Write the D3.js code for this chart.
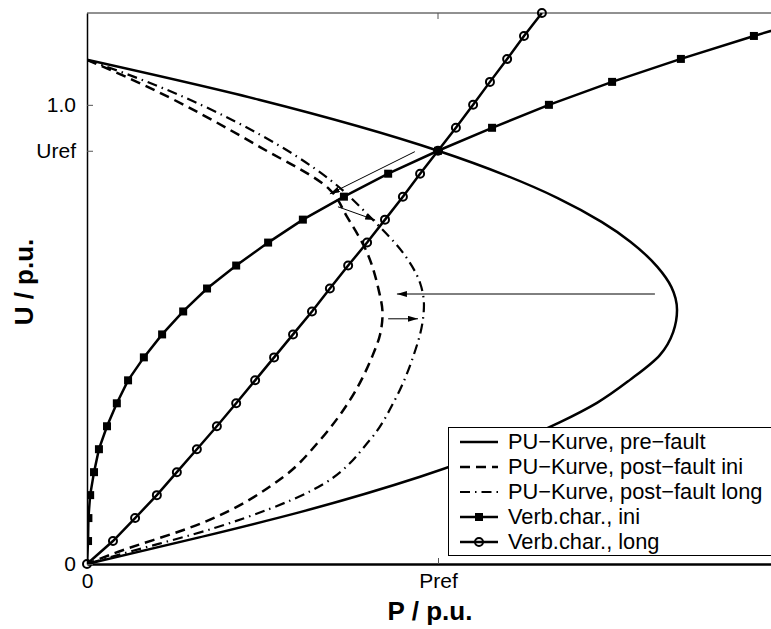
<!DOCTYPE html>
<html><head><meta charset="utf-8">
<script src="https://cdn.jsdelivr.net/npm/d3@7"></script>
<style>body{margin:0;background:#fff}svg{display:block}text{font-family:"Liberation Sans",Arial,sans-serif}</style>
</head><body><div id="chart"></div>
<script>
// ---- data ----
const xTickValues = [0, 1];
const xTickLabels = ["0", "Pref"];
const yTickValues = [0, 0.9, 1.0];
const yTickLabels = ["0", "Uref", "1.0"];

// PU curves [P, U]
const puPreFault = [[0,1.098],[0.49,1.011],[1.0,0.900],[1.191,0.847],[1.341,0.797],[1.466,0.745],[1.548,0.702],[1.625,0.647],[1.665,0.603],[1.681,0.553],[1.670,0.505],[1.632,0.455],[1.547,0.401],[1.453,0.351],[1.348,0.309],[0.949,0.190],[0.607,0.113],[0.32,0.058],[0,0]];
const puPostIni = [[0,1.098],[0.131,1.054],[0.493,0.908],[0.692,0.815],[0.741,0.756],[0.798,0.678],[0.830,0.600],[0.842,0.545],[0.835,0.500],[0.812,0.451],[0.749,0.357],[0.664,0.270],[0.560,0.190],[0.330,0.090],[0.066,0.020],[0,0]];
const puPostLong = [[0,1.098],[0.131,1.062],[0.493,0.935],[0.692,0.837],[0.815,0.749],[0.900,0.678],[0.949,0.612],[0.960,0.564],[0.957,0.532],[0.929,0.451],[0.877,0.357],[0.806,0.270],[0.640,0.160],[0.370,0.080],[0.100,0.022],[0,0]];

// Verbraucher-Charakteristik
const verbIniU = [0,0.05,0.10,0.15,0.20,0.25,0.30,0.35,0.40,0.45,0.50,0.55,0.60,0.65,0.70,0.75,0.80,0.85,0.90,0.95,1.00,1.05,1.10,1.15,1.20];
const verbIniP = [0,0.003,0.004,0.009,0.020,0.034,0.057,0.085,0.117,0.162,0.214,0.274,0.342,0.425,0.516,0.615,0.732,0.858,1.000,1.154,1.316,1.496,1.692,1.900,2.120];
const verbLongU = [0,0.05,0.10,0.15,0.20,0.25,0.30,0.35,0.40,0.45,0.50,0.55,0.60,0.65,0.70,0.75,0.80,0.85,0.90,0.95,1.00,1.05,1.10,1.15,1.20];
const verbLongP = [0,0.074,0.137,0.199,0.256,0.313,0.370,0.425,0.479,0.533,0.587,0.641,0.692,0.744,0.798,0.849,0.900,0.949,1.000,1.051,1.100,1.148,1.197,1.245,1.296];

// annotation arrows [P0,U0,P1,U1]
const arrows = [[0.934,0.898,0.692,0.806],[0.715,0.778,0.821,0.749],[1.618,0.588,0.883,0.588],[0.858,0.534,0.943,0.534]];

const legendLabels = ["PU\u2212Kurve, pre\u2212fault","PU\u2212Kurve, post\u2212fault ini","PU\u2212Kurve, post\u2212fault long","Verb.char., ini","Verb.char., long"];

// ---- drawing ----
const W = 771, H = 629;
const m = {left: 87, top: 13, right: -18, bottom: 65};
const x = d3.scaleLinear().domain([0, 2]).range([m.left, W - m.right]);
const y = d3.scaleLinear().domain([0, 1.2]).range([H - m.bottom, m.top]);

const svg = d3.select("#chart").append("svg").attr("width", W).attr("height", H);
const defs = svg.append("defs");
defs.append("clipPath").attr("id","clip").append("rect")
  .attr("x", x(0)).attr("y", y(1.2)).attr("width", x(2)-x(0)).attr("height", y(0)-y(1.2));
defs.append("marker").attr("id","arr").attr("viewBox","0 0 10 6").attr("refX",10).attr("refY",3)
  .attr("markerWidth",10).attr("markerHeight",6).attr("markerUnits","userSpaceOnUse").attr("orient","auto")
  .append("path").attr("d","M0,0L10,3L0,6Z").attr("fill","#000");

// frame
svg.append("line").attr("x1",x(0)).attr("x2",x(2)).attr("y1",y(1.2)).attr("y2",y(1.2)).attr("stroke","#222").attr("stroke-width",1);

const plot = svg.append("g").attr("clip-path","url(#clip)");
const line = d3.line().x(d=>x(d[0])).y(d=>y(d[1]));
const smooth = d3.line().x(d=>x(d[0])).y(d=>y(d[1])).curve(d3.curveMonotoneY);

plot.append("path").datum(puPreFault).attr("d",smooth).attr("fill","none").attr("stroke","#000").attr("stroke-width",2.5);
plot.append("path").datum(puPostIni).attr("d",smooth).attr("fill","none").attr("stroke","#000").attr("stroke-width",2.5).attr("stroke-dasharray","10,6");
plot.append("path").datum(puPostLong).attr("d",smooth).attr("fill","none").attr("stroke","#000").attr("stroke-width",2.2).attr("stroke-dasharray","10,5,1.5,5");

const verbIni = verbIniU.map((u,i)=>[verbIniP[i],u]);
const verbLong = verbLongU.map((u,i)=>[verbLongP[i],u]);
plot.append("path").datum(verbIni).attr("d",line).attr("fill","none").attr("stroke","#000").attr("stroke-width",2.5);
plot.append("path").datum(verbLong).attr("d",line).attr("fill","none").attr("stroke","#000").attr("stroke-width",2.5);
plot.selectAll(".sq").data(verbIni).join("rect").attr("class","sq")
  .attr("x",d=>x(d[0])-4).attr("y",d=>y(d[1])-4).attr("width",8).attr("height",8).attr("fill","#000");
svg.selectAll(".ci").data(verbLong.filter(d=>d[1]<=1.2)).join("circle").attr("class","ci")
  .attr("cx",d=>x(d[0])).attr("cy",d=>y(d[1])).attr("r",4).attr("fill","none").attr("stroke","#000").attr("stroke-width",2);

// arrows
svg.selectAll(".ar").data(arrows).join("line").attr("class","ar")
  .attr("x1",d=>x(d[0])).attr("y1",d=>y(d[1])).attr("x2",d=>x(d[2])).attr("y2",d=>y(d[3]))
  .attr("stroke","#000").attr("stroke-width",1).attr("marker-end","url(#arr)");

// axes
const gx = svg.append("g").attr("transform",`translate(0,${y(0)})`)
  .call(d3.axisBottom(x).tickValues(xTickValues).tickFormat((d,i)=>xTickLabels[i]).tickSizeInner(-6).tickSizeOuter(0).tickPadding(9));
gx.select(".domain").attr("stroke","#000").attr("stroke-width",2.5);
gx.selectAll(".tick line").attr("stroke","#555");
gx.selectAll("text").attr("font-size",21).attr("fill","#000");
const gy = svg.append("g").attr("transform",`translate(${x(0)},0)`)
  .call(d3.axisLeft(y).tickValues(yTickValues).tickFormat((d,i)=>yTickLabels[i]).tickSizeInner(-6).tickSizeOuter(0).tickPadding(11));
gy.select(".domain").attr("stroke","#000").attr("stroke-width",1.5);
gy.selectAll(".tick line").attr("stroke","#555");
gy.selectAll("text").attr("font-size",21).attr("fill","#000");
// top tick at Pref
svg.append("line").attr("x1",x(1)).attr("x2",x(1)).attr("y1",y(1.2)).attr("y2",y(1.2)+6).attr("stroke","#555");

svg.append("text").attr("x",430).attr("y",620).attr("text-anchor","middle").attr("font-size",26).attr("font-weight","bold").text("P / p.u.");
svg.append("text").attr("transform","translate(33,282) rotate(-90)").attr("text-anchor","middle").attr("font-size",26).attr("font-weight","bold").text("U / p.u.");

// legend
const lg = svg.append("g");
lg.append("rect").attr("x",448.5).attr("y",427.5).attr("width",340).attr("height",128).attr("fill","#fff").attr("stroke","#000").attr("stroke-width",1);
const styles = [
  {dash:null,w:2.5,mk:null},{dash:"10,6",w:2.5,mk:null},{dash:"10,5,1.5,5",w:2.2,mk:null},{dash:null,w:2.5,mk:"sq"},{dash:null,w:2.5,mk:"ci"}];
legendLabels.forEach((t,i)=>{
  const yy = 442 + i*25;
  const l = lg.append("line").attr("x1",460).attr("x2",498).attr("y1",yy).attr("y2",yy).attr("stroke","#000").attr("stroke-width",styles[i].w);
  if (styles[i].dash) l.attr("stroke-dasharray",styles[i].dash);
  if (styles[i].mk==="sq") lg.append("rect").attr("x",475).attr("y",yy-4).attr("width",8).attr("height",8).attr("fill","#000");
  if (styles[i].mk==="ci") lg.append("circle").attr("cx",479).attr("cy",yy).attr("r",4).attr("fill","none").attr("stroke","#000").attr("stroke-width",2);
  lg.append("text").attr("x",508).attr("y",yy+7).attr("font-size",21.8).text(t);
});
</script></body></html>
